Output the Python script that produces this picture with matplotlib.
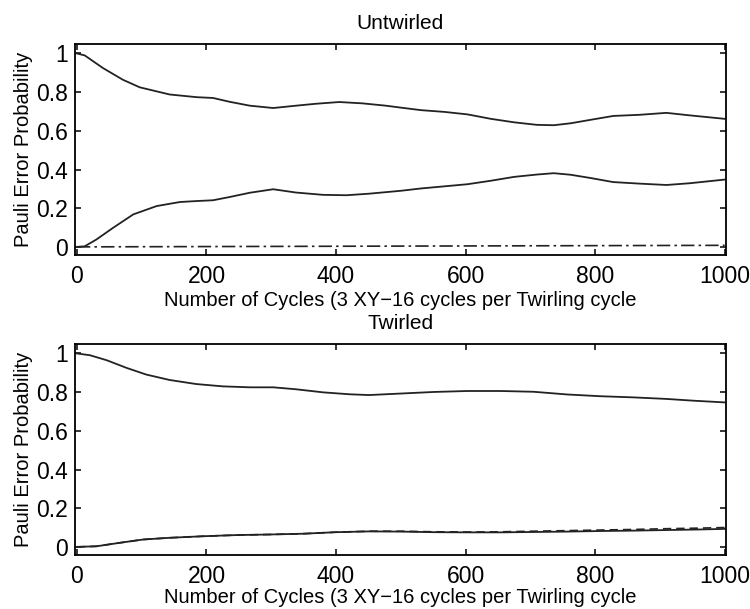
import numpy as np
import matplotlib
matplotlib.use('Agg')
import matplotlib.pyplot as plt

plt.rcParams['font.family'] = ['Liberation Sans', 'DejaVu Sans']

# Untwirled panel
x_untw_hi = [0, 12, 40, 71, 97, 143, 185, 210, 236, 267, 303, 338, 369, 405, 441, 477,
             500, 531, 567, 603, 639, 675, 710, 736, 762, 793, 828, 869, 910, 946, 1000]
upper_untw = [1.0, 0.99, 0.925, 0.864, 0.825, 0.788, 0.774, 0.77, 0.75, 0.73, 0.718, 0.73,
              0.74, 0.749, 0.742, 0.73, 0.72, 0.707, 0.698, 0.685, 0.662, 0.644, 0.631,
              0.629, 0.639, 0.657, 0.677, 0.683, 0.693, 0.68, 0.662]
x_untw_lo = [0, 12, 30, 56, 87, 123, 159, 185, 210, 236, 267, 303, 338, 380, 416, 451,
             477, 500, 531, 567, 603, 639, 675, 710, 736, 762, 793, 828, 869, 910, 946, 1000]
lower_untw = [0.0, 0.003, 0.038, 0.099, 0.168, 0.211, 0.232, 0.237, 0.241, 0.258, 0.28,
              0.298, 0.281, 0.269, 0.267, 0.275, 0.283, 0.29, 0.302, 0.313, 0.324, 0.342,
              0.362, 0.374, 0.381, 0.373, 0.356, 0.335, 0.327, 0.32, 0.329, 0.348]
x_flat = [0, 1000]
dashdot_untw = [0.0, 0.008]

# Twirled panel
x_tw_hi = [0, 20, 46, 77, 107, 143, 184, 225, 267, 303, 338, 380, 421, 451, 482,
           551, 603, 654, 705, 757, 808, 859, 910, 951, 1000]
upper_tw = [1.0, 0.991, 0.965, 0.925, 0.891, 0.863, 0.842, 0.83, 0.825, 0.825, 0.815,
            0.799, 0.789, 0.785, 0.79, 0.801, 0.806, 0.806, 0.802, 0.788, 0.779, 0.773,
            0.765, 0.756, 0.747]
x_tw_lo = [0, 30, 66, 102, 143, 195, 246, 297, 349, 400, 451, 500, 551, 603, 654, 705,
           757, 808, 859, 910, 962, 1000]
lower_tw = [0.0, 0.003, 0.021, 0.038, 0.047, 0.055, 0.061, 0.064, 0.068, 0.076, 0.08,
            0.079, 0.076, 0.075, 0.075, 0.077, 0.079, 0.082, 0.084, 0.087, 0.09, 0.093]
dash_tw = [0.0, 0.003, 0.021, 0.038, 0.047, 0.055, 0.061, 0.064, 0.068, 0.076, 0.081,
           0.081, 0.078, 0.077, 0.078, 0.081, 0.084, 0.087, 0.09, 0.094, 0.097, 0.1]

xticks = [0, 200, 400, 600, 800, 1000]
yticks = [0, 0.2, 0.4, 0.6, 0.8, 1]
ytick_labels = ['0', '0.2', '0.4', '0.6', '0.8', '1']
xlabel = 'Number of Cycles (3 XY\u221216 cycles per Twirling cycle'
ylabel = 'Pauli Error Probability'

fig = plt.figure(figsize=(7.5, 6.09), dpi=100)
ax1 = fig.add_axes([75/750, 1 - 255/609, 651/750, 211/609])
ax2 = fig.add_axes([75/750, 1 - 555/609, 651/750, 211/609])

lc = '#222222'

def style(ax, title, xpad):
    ax.set_xlim(-3, 1002)
    ax.set_ylim(-0.042, 1.049)
    ax.set_xticks(xticks)
    ax.set_yticks(yticks)
    ax.set_yticklabels(ytick_labels)
    ax.tick_params(direction='in', top=True, right=True, length=4, width=1.1,
                   labelsize=16.5, pad=5)
    ax.tick_params(axis='x', pad=7)
    for s in ax.spines.values():
        s.set_linewidth(1.3)
    ax.set_xlabel(xlabel, fontsize=14.5, labelpad=xpad)
    ax.set_ylabel(ylabel, fontsize=14.5, labelpad=2.5)
    ax.set_title(title, fontsize=15, pad=10.5)

ax1.plot(x_untw_hi, upper_untw, color=lc, lw=1.3)
ax1.plot(x_untw_lo, lower_untw, color=lc, lw=1.3)
ax1.plot(x_flat, dashdot_untw, color=lc, lw=1.2, ls=(0, (8, 2.5, 1.5, 2.5)))
style(ax1, 'Untwirled', 2.5)

ax2.plot(x_tw_lo, dash_tw, color=lc, lw=1.2, ls=(0, (5, 3)))
ax2.plot(x_tw_hi, upper_tw, color=lc, lw=1.3)
ax2.plot(x_tw_lo, lower_tw, color=lc, lw=1.3)
style(ax2, 'Twirled', 0.5)

fig.savefig('out.png', dpi=100)
